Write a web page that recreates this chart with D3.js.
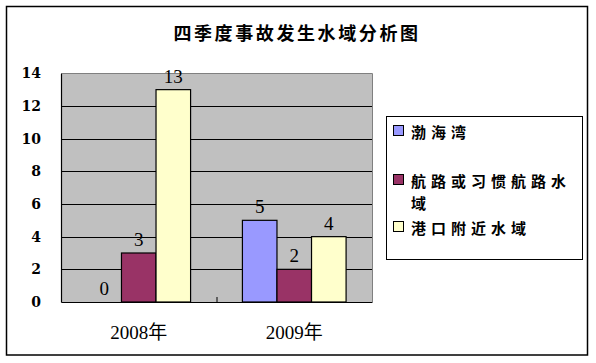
<!DOCTYPE html>
<html>
<head>
<meta charset="utf-8">
<script src="https://cdn.jsdelivr.net/npm/d3@7"></script>
<style>
body { margin: 0; background: #fff; }
</style>
</head>
<body>
<div class="canvas"></div>
<script>
// data
const categories = ['2008年', '2009年'];
const seriesNames = ['渤海湾', '航路或习惯航路水域', '港口附近水域'];
const bohai = [0, 5];
const hanglu = [3, 2];
const gangkou = [13, 4];
const yTicks = [0, 2, 4, 6, 8, 10, 12, 14];
const title = '四季度事故发生水域分析图';

const colors = ['#9999FF', '#993366', '#FFFFCC'];
const serif = '"Liberation Serif", "Times New Roman", "Noto Sans CJK SC", serif';
const boldSerif = '"DejaVu Serif", "Liberation Serif", serif';
const cjk = '"Noto Sans CJK SC", sans-serif';

// dimensions
const width = 596, height = 363;
const plot = {left: 61, top: 73.3, right: 372, bottom: 302};

const svg = d3.select('.canvas')
.append('svg')
.attr('width', width)
.attr('height', height);

// outer border
svg.append('rect')
.attr('x', 6.5).attr('y', 6.5)
.attr('width', 581).attr('height', 348.5)
.attr('fill', '#fff')
.attr('stroke', '#000')
.attr('stroke-width', 1.5);

// title
svg.append('text')
.attr('x', 297).attr('y', 40)
.attr('text-anchor', 'middle')
.style('font-family', cjk)
.style('font-size', '18px')
.style('font-weight', 'bold')
.attr('letter-spacing', 2.6)
.text(title);

// scales
const x0 = d3.scaleBand()
.domain(categories)
.range([plot.left, plot.right])
.padding(0);

const x1 = d3.scaleBand()
.domain(d3.range(seriesNames.length))
.range([0, x0.bandwidth()])
.paddingInner(0)
.paddingOuter(0.75);

const y = d3.scaleLinear()
.domain([0, 14])
.range([plot.bottom, plot.top]);

// plot background
svg.append('rect')
.attr('x', plot.left).attr('y', plot.top)
.attr('width', plot.right - plot.left)
.attr('height', plot.bottom - plot.top)
.attr('fill', '#C0C0C0');

// gridlines
svg.append('g')
.selectAll('line')
.data(yTicks.slice(1, -1))
.enter().append('line')
.attr('x1', plot.left).attr('x2', plot.right)
.attr('y1', d => Math.round(y(d)) + 0.5)
.attr('y2', d => Math.round(y(d)) + 0.5)
.attr('stroke', '#000');

// top and right border of plot
svg.append('path')
.attr('d', `M${plot.left},${Math.round(plot.top) + 0.5}H${plot.right + 0.5}V${plot.bottom}`)
.attr('fill', 'none')
.attr('stroke', '#808080');

// bars
const values = [bohai, hanglu, gangkou];
const groups = svg.append('g')
.selectAll('g')
.data(categories)
.enter().append('g')
.attr('transform', d => `translate(${x0(d)},0)`);

groups.selectAll('rect')
.data((d, i) => values.map((s, k) => ({k, v: s[i]})))
.enter().append('rect')
.attr('x', d => x1(d.k))
.attr('y', d => y(d.v))
.attr('width', x1.bandwidth())
.attr('height', d => y(0) - y(d.v))
.attr('fill', d => colors[d.k])
.attr('stroke', '#000')
.attr('stroke-width', 1.2)
.style('display', d => d.v === 0 ? 'none' : null);

// data labels
groups.selectAll('text')
.data((d, i) => values.map((s, k) => ({k, v: s[i]})))
.enter().append('text')
.attr('x', d => x1(d.k) + x1.bandwidth() / 2)
.attr('y', d => y(d.v) - 7)
.attr('text-anchor', 'middle')
.style('font-family', serif)
.style('font-size', '19px')
.text(d => d.v);

// axes
const yAxis = d3.axisLeft(y)
.tickValues(yTicks)
.tickSize(0)
.tickPadding(20);

const yAxisGroup = svg.append('g')
.attr('transform', `translate(${plot.left},0)`)
.call(yAxis);
yAxisGroup.select('.domain').attr('stroke', '#000').attr('stroke-width', 1.2);
yAxisGroup.selectAll('text')
.style('font-family', boldSerif)
.style('font-size', '14px')
.style('font-weight', 'bold')
.attr('fill', '#000');

const xAxis = d3.axisBottom(x0)
.tickSize(0)
.tickPadding(24);

const xAxisGroup = svg.append('g')
.attr('transform', `translate(0,${plot.bottom})`)
.call(xAxis);
xAxisGroup.select('.domain').attr('stroke', '#000').attr('stroke-width', 1.2);
xAxisGroup.selectAll('text')
.style('font-family', serif)
.style('font-size', '19px')
.attr('fill', '#000');

// category divider tick
xAxisGroup.append('line')
.attr('x1', x0(categories[1]) + 0.5).attr('x2', x0(categories[1]) + 0.5)
.attr('y1', 0).attr('y2', -5)
.attr('stroke', '#000');

// legend
const legend = svg.append('g');
legend.append('rect')
.attr('x', 386.5).attr('y', 116.5)
.attr('width', 196).attr('height', 143)
.attr('fill', '#fff')
.attr('stroke', '#000');

const legendRows = [
  {lines: ['渤海湾'], y: 131},
  {lines: ['航路或习惯航路水', '域'], y: 180},
  {lines: ['港口附近水域'], y: 227}
];

legendRows.forEach((row, i) => {
  legend.append('rect')
  .attr('x', 393.5).attr('y', row.y - 5.5)
  .attr('width', 10).attr('height', 10)
  .attr('fill', colors[i])
  .attr('stroke', '#000');

  row.lines.forEach((ln, j) => {
    legend.append('text')
    .attr('x', 411)
    .attr('y', row.y + j * 22)
    .attr('dominant-baseline', 'central')
    .style('font-family', cjk)
    .style('font-size', '15px')
    .style('font-weight', 'bold')
    .attr('letter-spacing', 5)
    .text(ln);
  });
});
</script>
</body>
</html>
